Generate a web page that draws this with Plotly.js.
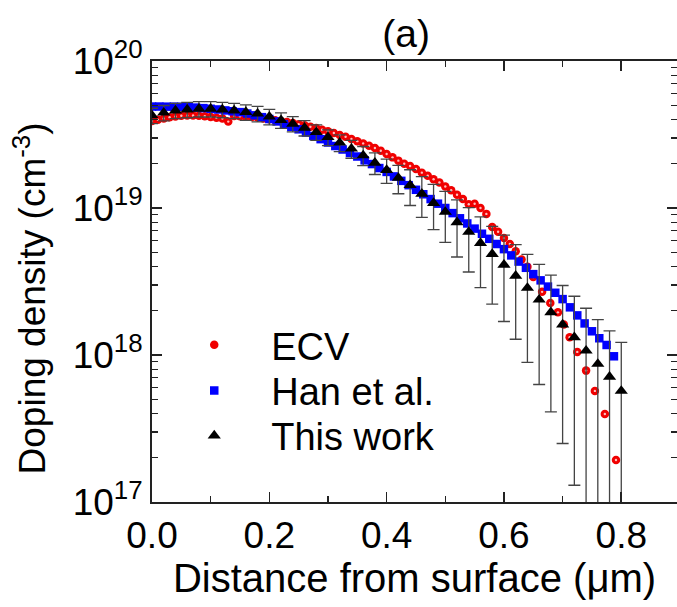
<!DOCTYPE html>
<html>
<head>
<meta charset="utf-8">
<script src="https://cdn.plot.ly/plotly-3.0.1.min.js"></script>
<style>html,body{margin:0;padding:0;background:#fff;}#chart{width:677px;height:607px;}</style>
</head>
<body>
<div id="chart"></div>
<script>
// ECV (red spheres)
const ecvX = [0.00,0.01,0.02,0.03,0.04,0.05,0.06,0.07,0.08,0.09,0.10,0.11,0.12,0.13,0.14,0.15,0.16,0.17,0.18,0.19,
  0.20,0.21,0.22,0.23,0.24,0.25,0.26,0.27,0.28,0.29,0.30,0.31,0.32,0.33,0.34,0.35,0.36,0.37,0.38,0.39,
  0.40,0.41,0.42,0.43,0.44,0.45,0.46,0.47,0.48,0.49,0.50,0.51,0.52,0.53,0.54,0.55,0.56,0.57,0.58,0.59,
  0.60,0.61,0.62,0.63,0.64,0.65,0.665,0.679,0.692,0.702,0.712,0.725,0.740,0.755,0.772,0.791];
const ecvY = [3.90e19,3.98e19,4.06e19,4.14e19,4.20e19,4.24e19,4.26e19,4.26e19,4.24e19,4.21e19,4.16e19,4.11e19,4.06e19,3.87e19,4.22e19,4.21e19,4.19e19,4.16e19,4.12e19,4.07e19,
  4.02e19,3.96e19,3.90e19,3.85e19,3.78e19,3.72e19,3.65e19,3.57e19,3.50e19,3.41e19,3.33e19,3.24e19,3.14e19,3.05e19,2.95e19,2.85e19,2.75e19,2.65e19,2.56e19,2.45e19,
  2.33e19,2.21e19,2.10e19,2.00e19,1.93e19,1.84e19,1.74e19,1.66e19,1.57e19,1.49e19,1.40e19,1.32e19,1.23e19,1.15e19,1.06e19,1.07e19,1.00e19,9.12e18,7.43e18,6.89e18,
  6.24e18,5.69e18,5.07e18,4.47e18,3.98e18,3.39e18,2.69e18,2.26e18,1.95e18,1.61e18,1.32e18,1.05e18,7.83e17,5.70e17,3.97e17,1.93e17];

// Han et al. (blue squares)
const hanX = [0.0000,0.0125,0.0250,0.0375,0.0500,0.0625,0.0750,0.0875,0.1000,0.1125,0.1250,0.1375,0.1500,0.1625,0.1750,0.1875,
  0.2000,0.2125,0.2250,0.2375,0.2500,0.2625,0.2750,0.2875,0.3000,0.3125,0.3250,0.3375,0.3500,0.3625,0.3750,0.3875,
  0.4000,0.4125,0.4250,0.4375,0.4500,0.4625,0.4750,0.4875,0.5000,0.5125,0.5250,0.5375,0.5500,0.5625,0.5750,0.5875,
  0.6000,0.6125,0.6250,0.6375,0.6500,0.6625,0.6750,0.6875,0.7000,0.7125,0.7250,0.7375,0.7500,0.7625,0.7750,0.7875];
const hanY = [4.90e19,4.90e19,4.89e19,4.89e19,4.88e19,4.85e19,4.82e19,4.78e19,4.73e19,4.68e19,4.61e19,4.55e19,4.49e19,4.39e19,4.27e19,4.15e19,
  4.03e19,3.88e19,3.72e19,3.57e19,3.43e19,3.26e19,3.09e19,2.94e19,2.79e19,2.64e19,2.50e19,2.37e19,2.24e19,2.11e19,1.99e19,1.87e19,
  1.76e19,1.64e19,1.53e19,1.43e19,1.33e19,1.24e19,1.15e19,1.07e19,1.00e19,9.23e18,8.51e18,7.85e18,7.24e18,6.68e18,6.17e18,5.69e18,
  5.25e18,4.76e18,4.32e18,3.92e18,3.55e18,3.22e18,2.92e18,2.65e18,2.40e18,2.11e18,1.86e18,1.64e18,1.45e18,1.30e18,1.17e18,9.8e17];

// This work (black triangles with error bars)
const workX = [0.00,0.02,0.04,0.06,0.08,0.10,0.12,0.14,0.16,0.18,0.20,0.22,0.24,0.26,0.28,0.30,0.32,0.34,0.36,0.38,
  0.40,0.42,0.44,0.46,0.48,0.50,0.52,0.54,0.56,0.58,0.60,0.62,0.64,0.66,0.68,0.70,0.72,0.74,0.76,0.78,0.80];
const workY = [4.26e19,4.45e19,4.60e19,4.67e19,4.73e19,4.73e19,4.67e19,4.60e19,4.49e19,4.38e19,4.18e19,3.96e19,3.74e19,3.51e19,3.28e19,3.03e19,2.78e19,2.53e19,2.28e19,2.03e19,
  1.81e19,1.60e19,1.43e19,1.25e19,1.08e19,9.4e18,8.0e18,6.87e18,5.78e18,4.86e18,4.11e18,3.46e18,2.86e18,2.38e18,1.95e18,1.61e18,1.32e18,1.07e18,8.7e17,7.1e17,5.7e17];
const workErr = [5.1e18,5.3e18,5.5e18,5.6e18,5.7e18,5.7e18,5.6e18,5.5e18,5.4e18,5.3e18,5.0e18,4.8e18,4.5e18,4.2e18,4.0e18,3.7e18,3.6e18,3.5e18,3.4e18,3.4e18,
  3.4e18,3.5e18,3.9e18,3.86e18,3.67e18,3.56e18,3.36e18,3.2e18,2.91e18,2.64e18,2.42e18,2.18e18,1.97e18,1.75e18,1.54e18,1.36e18,1.19e18,1.01e18,8.7e17,7.5e17,6.5e17];

const xTickVals = [0.0,0.2,0.4,0.6,0.8];
const xTickText = ['0.0','0.2','0.4','0.6','0.8'];
const yTickVals = [1e17,1e18,1e19,1e20];
const yTickText = ['10<sup>17</sup>','10<sup>18</sup>','10<sup>19</sup>','10<sup>20</sup>'];

const FONT = 'Liberation Sans, Arial, sans-serif';

const traces = [
  {x: ecvX, y: ecvY, type:'scatter', mode:'markers', name:'ECV', legend:'legend',
   marker:{symbol:'circle', size:8.5, color:'#f00000', line:{width:0}}},
  {x: ecvX, y: ecvY, type:'scatter', mode:'markers', name:'ECV highlight', showlegend:false, hoverinfo:'skip',
   marker:{symbol:'circle', size:2.4, color:'rgba(255,210,210,0.9)', line:{width:0}}},
  {x: hanX, y: hanY, type:'scatter', mode:'markers', name:'Han et al.', legend:'legend2',
   marker:{symbol:'square', size:8.5, color:'#0000ff', line:{width:0}}},
  {x: workX, y: workY, type:'scatter', mode:'markers', name:'This work', legend:'legend3',
   marker:{symbol:'triangle-up', size:11.5, color:'#000000', line:{width:0}},
   error_y:{type:'data', array: workErr, visible:true, color:'#444444', thickness:1.3, width:6}}
];

const axisCommon = {
  showline:true, linecolor:'#222', linewidth:2, mirror:'allticks',
  ticks:'inside', ticklen:10, tickwidth:1.6, tickcolor:'#222',
  showgrid:false, zeroline:false,
  tickfont:{family:FONT, size:37, color:'#000'}
};

const legendCommon = {xanchor:'left', yanchor:'middle', bgcolor:'rgba(0,0,0,0)', borderwidth:0,
  font:{family:FONT, size:38, color:'#000'}, itemwidth:104};

const layout = {
  width:677, height:607,
  margin:{l:152, r:0, t:61, b:105},
  paper_bgcolor:'#fff', plot_bgcolor:'#fff',
  showlegend:true,
  title:{text:'(a)', font:{family:FONT, size:39, color:'#000'}, x:0.6, xref:'container', xanchor:'center', y:0.945, yref:'container', yanchor:'middle'},
  xaxis: Object.assign({}, axisCommon, {
    range:[0, 0.895], tickmode:'array', tickvals:xTickVals, ticktext:xTickText,
    minor:{dtick:0.1, tick0:0, ticks:'inside', ticklen:6, tickwidth:1.4, tickcolor:'#222'},
    title:{text:'Distance from surface (\u03bcm)', font:{family:FONT, size:40, color:'#000'}, standoff:8}
  }),
  yaxis: Object.assign({}, axisCommon, {
    type:'log', range:[17, 20], tickmode:'array', tickvals:yTickVals, ticktext:yTickText,
    minor:{dtick:'D1', ticks:'inside', ticklen:6, tickwidth:1.4, tickcolor:'#222'}
  }),
  legend: Object.assign({}, legendCommon, {x:0.01, y:0.356}),
  legend2: Object.assign({}, legendCommon, {x:0.01, y:0.252}),
  legend3: Object.assign({}, legendCommon, {x:0.01, y:0.150}),
  annotations:[
    {text:'Doping density (cm<sup>-3</sup>)', xref:'paper', yref:'paper', x:-0.232, y:0.462,
     xanchor:'center', yanchor:'middle', textangle:-90, showarrow:false,
     font:{family:FONT, size:37, color:'#000'}}
  ]
};

Plotly.newPlot('chart', traces, layout, {displayModeBar:false, staticPlot:true});
</script>
</body>
</html>
